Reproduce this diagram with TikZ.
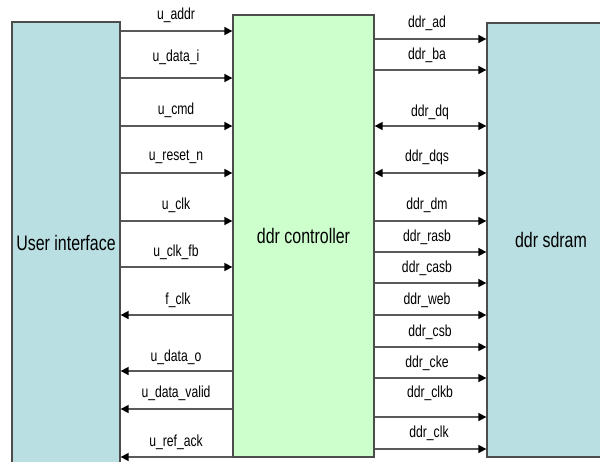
\documentclass[tikz,border=0pt]{standalone}
\usepackage{fontspec}
\setmainfont{Liberation Sans}[FakeStretch=0.76]
\usetikzlibrary{arrows.meta}

\definecolor{uiblue}{RGB}{185,223,226}
\definecolor{ctrlgreen}{RGB}{204,255,204}

\begin{document}
\begin{tikzpicture}[x=1pt, y=-1pt,
  box/.style={draw=black!70, line width=1.3pt, inner sep=0pt, font=\fontsize{21}{24}\selectfont},
  sig/.style={draw=black!65, line width=1.6pt},
  lbl/.style={inner sep=0pt, font=\fontsize{16}{18}\selectfont},
  >={Triangle[length=8pt, width=8pt, color=black]}]

\useasboundingbox (0,0) rectangle (600,461);

\node[box, fill=uiblue, minimum width=108, minimum height=442] (ui) at (66,243) {User interface};
\node[box, fill=ctrlgreen, minimum width=141, minimum height=442] (ctrl) at (303.5,236) {ddr controller};
\node[box, fill=uiblue, minimum width=128, minimum height=434] (sdram) at (551,240) {ddr sdram};

% user side
\draw[sig, ->] (ui.east |- 0,31) -- (ctrl.west |- 0,31);
\draw[sig, ->] (ui.east |- 0,78) -- (ctrl.west |- 0,78);
\draw[sig, ->] (ui.east |- 0,126) -- (ctrl.west |- 0,126);
\draw[sig, ->] (ui.east |- 0,173) -- (ctrl.west |- 0,173);
\draw[sig, ->] (ui.east |- 0,221) -- (ctrl.west |- 0,221);
\draw[sig, ->] (ui.east |- 0,267) -- (ctrl.west |- 0,267);
\draw[sig, <-] (ui.east |- 0,315) -- (ctrl.west |- 0,315);
\draw[sig, <-] (ui.east |- 0,371) -- (ctrl.west |- 0,371);
\draw[sig, <-] (ui.east |- 0,409) -- (ctrl.west |- 0,409);
\draw[sig, <-] (ui.east |- 0,457) -- (ctrl.west |- 0,457);

\node[lbl] (l-addr) at (176,15) {u\_addr};
\node[lbl] (l-datai) at (176,57) {u\_data\_i};
\node[lbl] (l-cmd) at (176,110) {u\_cmd};
\node[lbl] (l-reset) at (176,157) {u\_reset\_n};
\node[lbl] (l-clk) at (176,205) {u\_clk};
\node[lbl] (l-clkfb) at (176,252) {u\_clk\_fb};
\node[lbl] (l-fclk) at (178,300) {f\_clk};
\node[lbl] (l-datao) at (176,357) {u\_data\_o};
\node[lbl] (l-valid) at (176,393) {u\_data\_valid};
\node[lbl] (l-refack) at (176,442) {u\_ref\_ack};

% sdram side
\draw[sig, ->] (ctrl.east |- 0,39) -- (sdram.west |- 0,39);
\draw[sig, ->] (ctrl.east |- 0,70) -- (sdram.west |- 0,70);
\draw[sig, <->] (ctrl.east |- 0,126) -- (sdram.west |- 0,126);
\draw[sig, <->] (ctrl.east |- 0,173) -- (sdram.west |- 0,173);
\draw[sig, ->] (ctrl.east |- 0,221) -- (sdram.west |- 0,221);
\draw[sig, ->] (ctrl.east |- 0,252) -- (sdram.west |- 0,252);
\draw[sig, ->] (ctrl.east |- 0,283) -- (sdram.west |- 0,283);
\draw[sig, ->] (ctrl.east |- 0,315) -- (sdram.west |- 0,315);
\draw[sig, ->] (ctrl.east |- 0,347) -- (sdram.west |- 0,347);
\draw[sig, ->] (ctrl.east |- 0,378) -- (sdram.west |- 0,378);
\draw[sig, ->] (ctrl.east |- 0,417) -- (sdram.west |- 0,417);
\draw[sig, ->] (ctrl.east |- 0,449) -- (sdram.west |- 0,449);

\node[lbl] (l-ad) at (427,23) {ddr\_ad};
\node[lbl] (l-ba) at (427,55) {ddr\_ba};
\node[lbl] (l-dq) at (430,112) {ddr\_dq};
\node[lbl] (l-dqs) at (427,157) {ddr\_dqs};
\node[lbl] (l-dm) at (427,205) {ddr\_dm};
\node[lbl] (l-rasb) at (427,237) {ddr\_rasb};
\node[lbl] (l-casb) at (427,268) {ddr\_casb};
\node[lbl] (l-web) at (427,300) {ddr\_web};
\node[lbl] (l-csb) at (430,332) {ddr\_csb};
\node[lbl] (l-cke) at (427,363) {ddr\_cke};
\node[lbl] (l-clkb) at (430,393) {ddr\_clkb};
\node[lbl] (l-clk) at (429,433) {ddr\_clk};
\end{tikzpicture}
\end{document}
